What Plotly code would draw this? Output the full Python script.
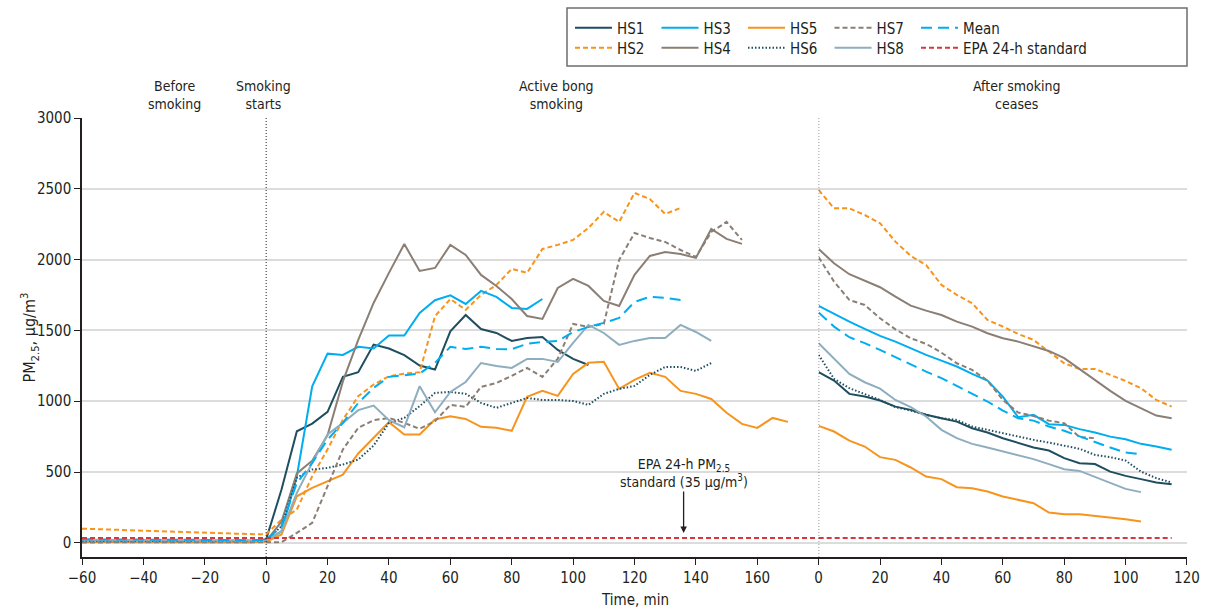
import plotly.graph_objects as go

# ---------------- data (PM2.5, µg/m3), 5-min samples ----------------
# "smoking" arrays start at -60 min (before smoking) and run through active smoking
# "after" arrays start at 0 min after smoking ceases
HS1_smoking = [12, 12, 11, 11, 10, 10, 10, 10, 9, 9, 9, 10, 25,
               376, 788, 842, 925, 1172, 1205, 1400, 1372, 1325, 1252, 1224, 1494, 1609,
               1510, 1482, 1426, 1447, 1454, 1362, 1299, 1256]
HS2_smoking = [100, 96, 92, 88, 85, 82, 78, 75, 72, 68, 65, 62, 60,
               165, 235, 470, 660, 870, 1035, 1118, 1176, 1195, 1205, 1600, 1722, 1645,
               1751, 1821, 1934, 1906, 2075, 2104, 2139, 2224, 2337, 2266, 2471, 2428,
               2322, 2365]
HS3_smoking = [18, 18, 17, 17, 16, 16, 16, 15, 15, 15, 15, 15, 15,
               82, 470, 1106, 1336, 1327, 1384, 1372, 1464, 1464, 1624, 1713, 1748, 1687,
               1779, 1737, 1659, 1652, 1722]
HS4_smoking = [6, 6, 6, 5, 5, 5, 5, 5, 5, 5, 5, 5, 12,
               150, 490, 580, 760, 1140, 1433, 1694, 1906, 2110, 1920, 1941, 2104, 2033,
               1892, 1814, 1722, 1602, 1581, 1800, 1864, 1814, 1708, 1673, 1892, 2026,
               2054, 2040, 2012, 2216, 2146, 2111]
HS5_smoking = [8, 8, 8, 7, 7, 7, 7, 7, 7, 6, 6, 6, 8,
               59, 329, 388, 435, 482, 631, 741, 852, 765, 765, 871, 894, 875, 819, 812,
               791, 1031, 1073, 1038, 1193, 1271, 1278, 1087, 1151, 1200, 1172, 1073,
               1052, 1016, 918, 840, 812, 882, 854]
HS6_smoking = [14, 14, 13, 13, 13, 12, 12, 12, 12, 12, 12, 12, 15,
               118, 459, 518, 529, 553, 588, 687, 847, 882, 965, 1059, 1066, 1052, 988,
               953, 988, 1023, 1009, 1009, 1002, 974, 1052, 1087, 1108, 1186, 1242, 1242,
               1214, 1270]
HS7_smoking = [3, 3, 3, 3, 3, 3, 2, 2, 2, 2, 2, 2, 3,
               5, 70, 141, 400, 660, 812, 866, 882, 847, 805, 859, 974, 960, 1101, 1129,
               1179, 1235, 1172, 1300, 1546, 1525, 1546, 1998, 2188, 2153, 2125, 2068,
               2019, 2195, 2266, 2139]
HS8_smoking = [22, 21, 20, 20, 19, 19, 18, 18, 17, 17, 16, 16, 16,
               82, 353, 565, 765, 847, 937, 969, 866, 816, 1106, 922, 1065, 1136, 1270,
               1249, 1235, 1299, 1299, 1278, 1412, 1539, 1482, 1398, 1426, 1447, 1447,
               1539, 1489, 1426]
Mean_smoking = [25, 24, 23, 23, 22, 22, 21, 21, 20, 20, 19, 19, 20,
                118, 423, 565, 729, 847, 988, 1094, 1172, 1186, 1195, 1271, 1384, 1369,
                1384, 1369, 1367, 1405, 1419, 1426, 1489, 1525, 1553, 1588, 1701, 1737,
                1730, 1715]

HS1_after = [1205, 1146, 1052, 1033, 1005, 962, 939, 904, 880, 856, 809, 779, 739, 708,
             673, 652, 598, 562, 556, 503, 473, 450, 426, 414]
HS2_after = [2492, 2362, 2362, 2315, 2257, 2127, 2026, 1962, 1821, 1751, 1692, 1574,
             1527, 1475, 1433, 1351, 1268, 1228, 1228, 1186, 1143, 1092, 1009, 962]
HS3_after = [1673, 1617, 1562, 1511, 1461, 1421, 1374, 1327, 1287, 1245, 1193, 1146,
             1033, 887, 904, 838, 833, 803, 779, 750, 732, 699, 680, 657]
HS4_after = [2075, 1974, 1897, 1849, 1805, 1739, 1675, 1640, 1609, 1562, 1527, 1480,
             1445, 1421, 1386, 1355, 1304, 1226, 1151, 1073, 1002, 951, 899, 880]
HS5_after = [826, 786, 722, 680, 605, 586, 532, 468, 450, 393, 386, 362, 327, 304, 280,
             214, 202, 202, 191, 179, 167, 150]
HS6_after = [1327, 1158, 1092, 1052, 1009, 958, 934, 904, 880, 868, 821, 798, 774, 750,
             727, 708, 685, 664, 621, 605, 581, 503, 457, 426]
HS7_after = [2017, 1845, 1715, 1680, 1586, 1508, 1445, 1405, 1343, 1268, 1221, 1146,
             1009, 920, 896, 863, 845, 746, 739]
HS8_after = [1410, 1299, 1193, 1134, 1089, 1009, 958, 892, 798, 739, 699, 673, 645, 614,
             591, 556, 520, 508, 464, 421, 381, 358]
Mean_after = [1626, 1527, 1452, 1410, 1362, 1311, 1257, 1209, 1163, 1108, 1057, 998,
              934, 880, 863, 821, 791, 750, 711, 673, 638, 626]

EPA_standard = 35
EPA_span_smoking = [-60, 180]
EPA_span_after = [0, 115]

SMOKING_START = -60
STEP = 5

phase_labels = ["Before<br>smoking", "Smoking<br>starts", "Active bong<br>smoking",
                "After smoking<br>ceases"]
left_ticks = [-60, -40, -20, 0, 20, 40, 60, 80, 100, 120, 140, 160]
right_ticks = [0, 20, 40, 60, 80, 100, 120]
y_ticks = [0, 500, 1000, 1500, 2000, 2500, 3000]

# ---------------- styles ----------------
FONT = "Liberation Sans Narrow, DejaVu Sans Condensed, Arial Narrow, sans-serif"
TXT = "#231f20"
series = [
    ("HS1", HS1_smoking, HS1_after, "#1f4e5f", "solid", "legend"),
    ("HS2", HS2_smoking, HS2_after, "#f7941d", "5px,3px", "legend2"),
    ("HS3", HS3_smoking, HS3_after, "#00aeef", "solid", "legend"),
    ("HS4", HS4_smoking, HS4_after, "#8b7f75", "solid", "legend2"),
    ("HS5", HS5_smoking, HS5_after, "#f7941d", "solid", "legend"),
    ("HS6", HS6_smoking, HS6_after, "#1f4e5f", "1.5px,2px", "legend2"),
    ("HS7", HS7_smoking, HS7_after, "#8b7f75", "5px,3px", "legend"),
    ("HS8", HS8_smoking, HS8_after, "#8eaebf", "solid", "legend2"),
    ("Mean", Mean_smoking, Mean_after, "#00aeef", "11px,6px", "legend"),
]

fig = go.Figure()
for name, sm, af, color, dash, leg in series:
    t_sm = [SMOKING_START + STEP * i for i in range(len(sm))]
    t_af = [STEP * i for i in range(len(af))]
    fig.add_trace(go.Scatter(x=t_sm, y=sm, mode="lines", name=name, legend=leg,
                             line=dict(color=color, width=2, dash=dash),
                             xaxis="x", yaxis="y", legendgroup=name))
    fig.add_trace(go.Scatter(x=t_af, y=af, mode="lines", name=name, showlegend=False,
                             line=dict(color=color, width=2, dash=dash),
                             xaxis="x2", yaxis="y", legendgroup=name))

fig.add_trace(go.Scatter(x=EPA_span_smoking, y=[EPA_standard] * 2, mode="lines",
                         name="EPA 24-h standard", legend="legend2", legendwidth=140,
                         line=dict(color="#d7373f", width=2, dash="5px,3px"),
                         xaxis="x", yaxis="y", legendgroup="epa"))
fig.add_trace(go.Scatter(x=EPA_span_after, y=[EPA_standard] * 2, mode="lines",
                         name="EPA 24-h standard", showlegend=False,
                         line=dict(color="#d7373f", width=2, dash="5px,3px"),
                         xaxis="x2", yaxis="y", legendgroup="epa"))

axis_common = dict(showline=True, linecolor=TXT, linewidth=1.5, ticks="outside",
                   ticklen=6, tickwidth=1, tickcolor=TXT, showgrid=False, zeroline=False,
                   tickfont=dict(family=FONT, size=15, color=TXT))

legend_common = dict(orientation="h", x=(570 - 82) / 1105, xanchor="left",
                     yanchor="middle", entrywidth=34.5, itemwidth=37,
                     bgcolor="rgba(0,0,0,0)", font=dict(family=FONT, size=15, color=TXT),
                     tracegroupgap=0)

fig.update_layout(
    width=1206, height=610,
    margin=dict(l=82, r=19, t=118, b=53, autoexpand=False),
    plot_bgcolor="white", paper_bgcolor="white",
    font=dict(family=FONT, size=15, color=TXT),
    xaxis=dict(domain=[0, 2 / 3], range=[-60, 180], tickvals=left_ticks, anchor="y",
               **axis_common),
    xaxis2=dict(domain=[2 / 3, 1], range=[0, 120], tickvals=right_ticks, anchor="y",
                **axis_common),
    yaxis=dict(range=[-100, 3000], tickvals=y_ticks, showgrid=True, gridcolor="#dcdcdc",
               gridwidth=1.5, showline=True, linecolor=TXT, linewidth=1.5, ticks="outside",
               ticklen=6, tickcolor=TXT, zeroline=False,
               tickfont=dict(family=FONT, size=15, color=TXT)),
    legend=dict(y=(557 - 28) / 439, **legend_common),
    legend2=dict(y=(557 - 48) / 439, **legend_common),
    showlegend=True,
)

# legend frame
fig.add_shape(type="rect", xref="paper", yref="paper",
              x0=(567 - 82) / 1105, x1=1.0, y0=(557 - 66) / 439, y1=(557 - 8) / 439,
              line=dict(color="#6d6e71", width=1.5), fillcolor="rgba(0,0,0,0)")

# phase separators
fig.add_shape(type="line", xref="x", yref="y", x0=0, x1=0, y0=-100, y1=3000,
              line=dict(color=TXT, width=1, dash="1px,2px"))
fig.add_shape(type="line", xref="x2", yref="y", x0=0, x1=0, y0=-100, y1=3000,
              line=dict(color=TXT, width=1, dash="1px,2px"))

# phase labels
for text, xr, xv in zip(phase_labels, ["x", "x", "x", "x2"], [-30, -1, 94.5, 64.5]):
    fig.add_annotation(text=text, xref=xr, x=xv, yref="paper", y=1, yanchor="bottom",
                       yshift=4, showarrow=False, align="center",
                       font=dict(family=FONT, size=14, color=TXT))

# EPA annotation
fig.add_annotation(text="EPA 24-h PM<sub>2.5</sub><br>standard (35 µg/m<sup>3</sup>)",
                   xref="x", x=136, yref="y", y=70, showarrow=True, arrowhead=2,
                   arrowsize=1, arrowwidth=1.3, arrowcolor=TXT, ax=0, ay=-60,
                   align="center", font=dict(family=FONT, size=14, color=TXT))

# axis titles
fig.add_annotation(text="Time, min", xref="paper", x=0.5, yref="paper",
                   y=(557 - 600) / 439, yanchor="middle", showarrow=False,
                   font=dict(family=FONT, size=15, color=TXT))
fig.add_annotation(text="PM<sub>2.5</sub>, µg/m<sup>3</sup>", xref="paper",
                   x=(30 - 82) / 1105, yref="paper", y=0.5, xanchor="center",
                   yanchor="middle", textangle=-90, showarrow=False,
                   font=dict(family=FONT, size=16, color=TXT))

fig.write_html("out.html", config={"displayModeBar": False},
               post_script="document.body.style.margin='0px';"
                           "document.body.style.overflow='hidden';")
